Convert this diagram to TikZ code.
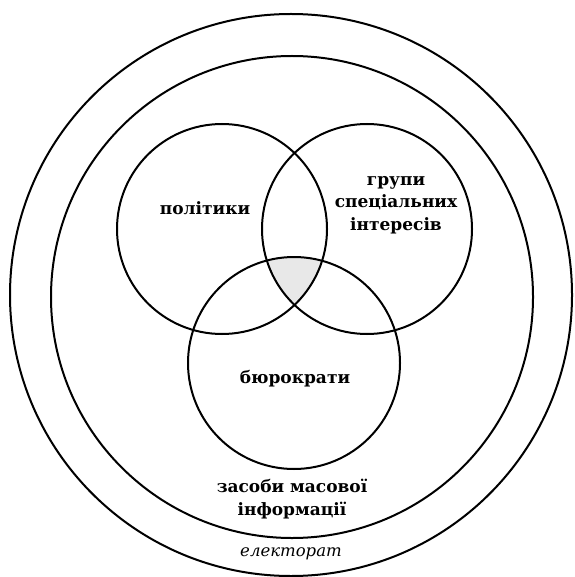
\documentclass[tikz,border=0pt]{standalone}
\usepackage{fontspec}
\setmainfont{DejaVu Serif}
\begin{document}
\begin{tikzpicture}[x=1pt,y=-1pt,
  ring/.style={draw=black,line width=2pt},
  lbl/.style={font=\bfseries\fontsize{17}{22.5}\selectfont,align=center,inner sep=0pt},
  lbli/.style={font=\itshape\fontsize{16.5}{22}\selectfont,align=center,inner sep=0pt}]
\useasboundingbox (0,0) rectangle (574,577);
\coordinate (O) at (291,295);
\coordinate (M) at (292,297);
\coordinate (P) at (222,229);
\coordinate (G) at (367,229);
\coordinate (B) at (294,363);
\begin{scope}
  \clip (P) circle (105);
  \clip (G) circle (105);
  \fill[black!9] (B) circle (106);
\end{scope}
\draw[ring] (O) circle (281);
\draw[ring] (M) circle (241);
\draw[ring] (P) circle (105);
\draw[ring] (G) circle (105);
\draw[ring] (B) circle (106);
\node[lbl] (tp) at (205,208) {політики};
\node[lbl] (tg) at (396,205) {групи\\спеціальних\\інтересів};
\node[lbl] (tb) at (295,379) {бюрократи};
\node[lbl] (tm) at (292,499) {засоби масової\\інформації};
\node[lbli] (te) at (291,554) {електорат};
\end{tikzpicture}
\end{document}
